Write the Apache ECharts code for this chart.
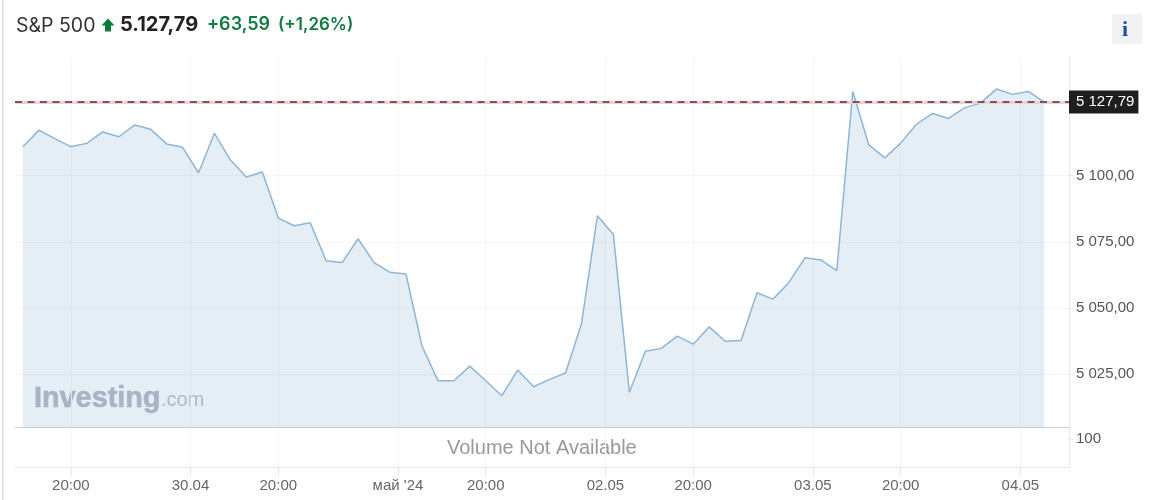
<!DOCTYPE html>
<html>
<head>
<meta charset="utf-8">
<style>html,body{margin:0;padding:0;background:#fff}#c{width:1155px;height:500px}</style>
<script src="https://cdn.jsdelivr.net/npm/echarts@6/dist/echarts.min.js"></script>
</head>
<body>
<div id="c"></div>
<script>
const closeValues = [5110.9,5117.2,5114.0,5111.0,5112.2,5116.5,5114.7,5119.1,5117.5,5112.0,5110.7,5101.1,5116.0,5105.9,5099.5,5101.4,5084.0,5081.1,5082.2,5067.9,5067.2,5076.2,5067.2,5063.5,5062.9,5035.8,5022.6,5022.6,5028.1,5022.6,5016.9,5026.6,5020.3,5023.1,5025.5,5044.1,5084.9,5077.8,5018.2,5033.7,5034.8,5039.4,5036.4,5042.9,5037.5,5037.8,5055.8,5053.4,5059.7,5069.0,5068.2,5064.2,5131.8,5111.7,5106.7,5112.3,5119.5,5123.5,5121.6,5125.6,5127.4,5132.7,5130.7,5131.8,5127.79];
const xTickPositions = [3,10.5,16,23.5,29,36.5,42,49.5,55,62.5];
const xTickLabels = ['20:00','30.04','20:00',"май '24",'20:00','02.05','20:00','03.05','20:00','04.05'];
const priceTicks = [5025,5050,5075,5100];
const volumeTicks = [100];
const lastPrice = 5127.79;
const headerName = 'S&P 500';
const headerPrice = '5.127,79';
const headerChange = '+63,59';
const headerPercent = '(+1,26%)';

const fmtPrice = v => {
  const s = v.toFixed(2).replace('.', ',');
  return s.slice(0, 1) + ' ' + s.slice(1);
};
const axisFont = 'Liberation Sans, Arial, sans-serif';
const headFont = 'Inter, sans-serif';
const faint = '#f5f6f7';
const xRange = {min: -0.5, max: 65.55};

const xBase = {
  type: 'value', ...xRange,
  splitLine: {show: true, lineStyle: {color: faint, width: 1}},
  axisTick: {show: false, customValues: xTickPositions},
  axisLabel: {show: false, customValues: xTickPositions}
};

const chart = echarts.init(document.getElementById('c'), null, {renderer: 'canvas'});
chart.setOption({
  animation: false,
  backgroundColor: '#fff',
  grid: [
    {left: 15, right: 86, top: 56.5, height: 370.8},
    {left: 15, right: 86, top: 427.3, height: 40.2}
  ],
  xAxis: [
    {...xBase, gridIndex: 0, axisLine: {show: true, onZero: false, lineStyle: {color: '#c9ced6', width: 1}}},
    {...xBase, gridIndex: 1,
      axisLine: {show: true, onZero: false, lineStyle: {color: '#e6e6e6', width: 1}},
      axisTick: {show: true, length: 8, lineStyle: {color: '#e6e6e6'}, customValues: xTickPositions},
      axisLabel: {show: true, customValues: xTickPositions, color: '#666', fontSize: 15, fontFamily: axisFont, margin: 11,
        hideOverlap: false,
        formatter: v => xTickLabels[xTickPositions.indexOf(v)] ?? ''}
    }
  ],
  yAxis: [
    {type: 'value', gridIndex: 0, position: 'right', min: 5005, max: 5145,
      axisLine: {show: true, onZero: false, lineStyle: {color: '#e9e9e9', width: 1}},
      splitLine: {show: true, lineStyle: {color: faint, width: 1}},
      axisTick: {show: true, length: 4, lineStyle: {color: '#e6e6e6'}, customValues: priceTicks},
      axisLabel: {customValues: priceTicks, color: '#555', fontSize: 15, fontFamily: axisFont, margin: 7, formatter: fmtPrice}
    },
    {type: 'value', gridIndex: 1, position: 'right', min: 0, max: 141,
      axisLine: {show: true, onZero: false, lineStyle: {color: '#e9e9e9', width: 1}},
      splitLine: {show: false},
      axisTick: {show: true, length: 4, lineStyle: {color: '#e6e6e6'}, customValues: volumeTicks},
      axisLabel: {customValues: volumeTicks, color: '#555', fontSize: 15, fontFamily: axisFont, margin: 7, formatter: v => String(v)}
    }
  ],
  series: [{
    type: 'line', xAxisIndex: 0, yAxisIndex: 0,
    data: closeValues.map((v, i) => [i, v]),
    showSymbol: false, symbol: 'none', smooth: false, clip: false,
    lineStyle: {color: '#8db6d6', width: 1.5},
    areaStyle: {color: 'rgba(100,150,195,0.17)', opacity: 1, origin: 'start'},
    markLine: {
      silent: true, symbol: 'none', animation: false,
      data: [
        [{coord: [xRange.min, lastPrice], lineStyle: {color: '#f5cfcf', width: 3, type: 'solid'}, label: {show: false}},
         {coord: [xRange.max, lastPrice]}],
        [{coord: [xRange.min, lastPrice], lineStyle: {color: '#4a343a', width: 1.5, type: [7, 5.5]},
          label: {show: true, position: 'end', distance: 0, formatter: () => fmtPrice(lastPrice),
            color: '#fff', fontSize: 15, fontFamily: axisFont, backgroundColor: '#1e1e1e', padding: [4, 4, 4, 7]}},
         {coord: [xRange.max, lastPrice]}]
      ]
    }
  }],
  graphic: [
    {type: 'rect', silent: true, shape: {x: 2, y: 0, width: 1.5, height: 500}, style: {fill: '#dedede'}},
    {type: 'text', left: 16, top: 16, style: {text: headerName, font: '400 19.5px ' + headFont, fill: '#333'}},
    {type: 'polygon', shape: {points: [[108, 18.5], [114.5, 25.5], [111, 25.5], [111, 31.5], [105, 31.5], [105, 25.5], [101.5, 25.5]]}, style: {fill: '#0a7a3c'}},
    {type: 'text', left: 120, top: 15, style: {text: headerPrice, font: '700 20px ' + headFont, fill: '#222'}},
    {type: 'text', left: 207, top: 16, style: {text: headerChange, font: '600 18px ' + headFont, fill: '#0f7a41'}},
    {type: 'text', left: 278, top: 16, style: {text: headerPercent, font: '600 17px ' + headFont, fill: '#0f7a41'}},
    {type: 'rect', shape: {x: 1112, y: 14, width: 30, height: 30}, style: {fill: '#f1f2f3'}},
    {type: 'text', left: 1122, top: 19, style: {text: 'i', font: '700 22px Liberation Serif, serif', fill: '#1c4f96'}},
    {type: 'text', x: 34, y: 384, scaleX: 0.96, style: {text: 'Investing', font: '700 30px Liberation Sans, Arial, sans-serif', fill: '#b4bbc4', stroke: '#b4bbc4', lineWidth: 0.6}},
    {type: 'text', left: 161, top: 390, style: {text: '.com', font: '400 20px Liberation Sans, Arial, sans-serif', fill: '#bcc3cb'}},
    {type: 'text', left: 447, top: 438, style: {text: 'Volume Not Available', font: '400 20px Liberation Sans, Arial, sans-serif', fill: '#999'}}
  ]
});
</script>
</body>
</html>
